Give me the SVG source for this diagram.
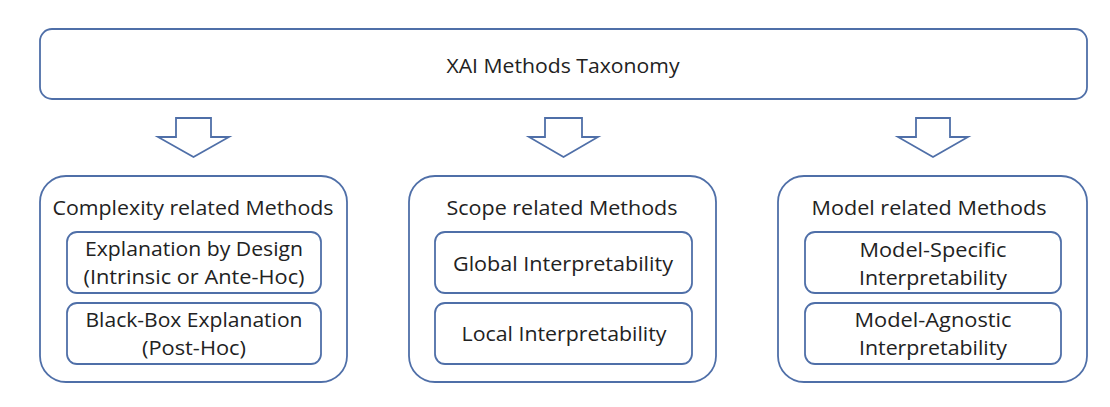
<svg xmlns="http://www.w3.org/2000/svg" width="1110" height="407" viewBox="0 0 1110 407">
<style>
.box{fill:#ffffff;stroke:#4f6fa8;stroke-width:1.8}
.arrow{fill:#ffffff;stroke:#4f6fa8;stroke-width:1.8;stroke-linejoin:miter}
text{font-family:"Open Sans","Liberation Sans",sans-serif;font-size:20px;fill:#222222;text-anchor:middle}
</style>
<rect width="1110" height="407" fill="#ffffff"/>
<g id="root">
<rect class="box" x="40" y="29" width="1047" height="70" rx="12"/>
<text x="563" y="73" textLength="233" lengthAdjust="spacingAndGlyphs">XAI Methods Taxonomy</text>
</g>
<g id="connectors">
<path class="arrow" d="M176,118 H211 V137 H229 L193.5,157 L158,137 H176 Z"/>
<path class="arrow" d="M545,118 H582 V137 H598 L563.5,157 L529,137 H545 Z"/>
<path class="arrow" d="M916,118 H950 V137 H968 L933,157 L898,137 H916 Z"/>
</g>
<g id="complexity">
<rect class="box" x="40" y="176" width="307" height="206" rx="26"/>
<text x="193" y="215" textLength="281" lengthAdjust="spacingAndGlyphs">Complexity related Methods</text>
</g>
<g id="design">
<rect class="box" x="67" y="232" width="254" height="61" rx="10"/>
<text x="194" y="256" textLength="218" lengthAdjust="spacingAndGlyphs">Explanation by Design</text>
<text x="194" y="284" textLength="221" lengthAdjust="spacingAndGlyphs">(Intrinsic or Ante-Hoc)</text>
</g>
<g id="blackbox">
<rect class="box" x="67" y="303" width="254" height="61" rx="10"/>
<text x="194" y="327" textLength="217" lengthAdjust="spacingAndGlyphs">Black-Box Explanation</text>
<text x="194" y="355" textLength="104" lengthAdjust="spacingAndGlyphs">(Post-Hoc)</text>
</g>
<g id="scope">
<rect class="box" x="409" y="176" width="307" height="206" rx="26"/>
<text x="562" y="215" textLength="231" lengthAdjust="spacingAndGlyphs">Scope related Methods</text>
</g>
<g id="global">
<rect class="box" x="435" y="232" width="257" height="61" rx="10"/>
<text x="563" y="271" textLength="220" lengthAdjust="spacingAndGlyphs">Global Interpretability</text>
</g>
<g id="local">
<rect class="box" x="435" y="303" width="257" height="61" rx="10"/>
<text x="564" y="341" textLength="205" lengthAdjust="spacingAndGlyphs">Local Interpretability</text>
</g>
<g id="model">
<rect class="box" x="778" y="176" width="309" height="206" rx="26"/>
<text x="929" y="215" textLength="235" lengthAdjust="spacingAndGlyphs">Model related Methods</text>
</g>
<g id="specific">
<rect class="box" x="805" y="232" width="256" height="61" rx="10"/>
<text x="933" y="257" textLength="147" lengthAdjust="spacingAndGlyphs">Model-Specific</text>
<text x="933" y="285" textLength="148" lengthAdjust="spacingAndGlyphs">Interpretability</text>
</g>
<g id="agnostic">
<rect class="box" x="805" y="303" width="256" height="61" rx="10"/>
<text x="933" y="327" textLength="157" lengthAdjust="spacingAndGlyphs">Model-Agnostic</text>
<text x="933" y="355" textLength="148" lengthAdjust="spacingAndGlyphs">Interpretability</text>
</g>
</svg>
